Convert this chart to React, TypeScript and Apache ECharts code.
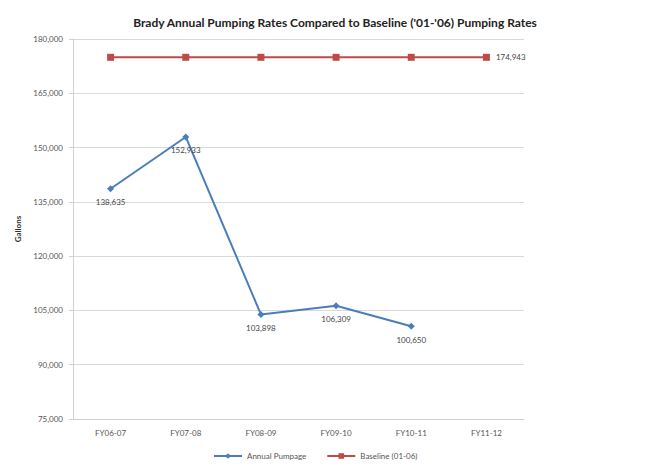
import React, { useEffect, useRef } from "react";
import * as echarts from "echarts";

const categories = ["FY06-07", "FY07-08", "FY08-09", "FY09-10", "FY10-11", "FY11-12"];
const annualPumpage = [138635, 152933, 103898, 106309, 100650, null];
const baseline = [174943, 174943, 174943, 174943, 174943, 174943];
const yTicks = { min: 75000, max: 180000, interval: 15000 };

export default function App() {
  const ref = useRef<HTMLDivElement>(null);
  useEffect(() => {
    const chart = echarts.init(ref.current!, null, { renderer: "svg" });
    const font = "Lato, 'Open Sans', sans-serif";
    chart.setOption({
      animation: false,
      backgroundColor: "#fff",
      textStyle: { fontFamily: font },
      title: {
        text: "Brady Annual Pumping Rates Compared to Baseline ('01-'06) Pumping Rates",
        left: 330,
        textAlign: "center",
        top: 11,
        textStyle: { fontSize: 12, fontWeight: "bold", color: "#222", fontFamily: font },
      },
      legend: {
        left: 208,
        top: 447,
        itemWidth: 28,
        itemHeight: 7,
        itemGap: 20,
        textStyle: { fontSize: 8, color: "#555", fontFamily: font },
        data: ["Annual Pumpage", "Baseline (01-06)"],
      },
      grid: { left: 73, right: 132, top: 39, bottom: 50 },
      xAxis: {
        type: "category",
        data: categories,
        boundaryGap: true,
        axisLine: { lineStyle: { color: "#d0d0d0" } },
        axisTick: { show: false },
        axisLabel: { fontSize: 8, color: "#555", margin: 10 },
      },
      yAxis: {
        type: "value",
        min: yTicks.min,
        max: yTicks.max,
        interval: yTicks.interval,
        name: "Gallons",
        nameLocation: "middle",
        nameGap: 44,
        nameRotate: 90,
        nameTextStyle: { fontSize: 8, fontWeight: "bold", color: "#333" },
        axisLine: { show: true, lineStyle: { color: "#d0d0d0" } },
        axisTick: { show: true, length: 4, lineStyle: { color: "#d0d0d0" } },
        splitLine: { lineStyle: { color: "#d9d9d9", width: 1 } },
        axisLabel: {
          fontSize: 8,
          color: "#555",
          margin: 10,
          formatter: (v: number) => v.toLocaleString("en-US"),
        },
      },
      series: [
        {
          name: "Annual Pumpage",
          type: "line",
          data: annualPumpage,
          symbol: "diamond",
          symbolSize: 7,
          lineStyle: { color: "#4a7ebb", width: 2 },
          itemStyle: { color: "#4a7ebb" },
          label: {
            show: true,
            position: "bottom",
            distance: 6,
            fontSize: 8,
            color: "#444",
            formatter: (p: any) => Number(p.value).toLocaleString("en-US"),
          },
        },
        {
          name: "Baseline (01-06)",
          type: "line",
          data: baseline,
          symbol: "rect",
          symbolSize: 7,
          lineStyle: { color: "#be4b48", width: 2 },
          itemStyle: { color: "#be4b48" },
          label: {
            show: true,
            position: "right",
            distance: 6,
            fontSize: 8,
            color: "#444",
            formatter: (p: any) =>
              p.dataIndex === baseline.length - 1 ? Number(p.value).toLocaleString("en-US") : "",
          },
        },
      ],
    });
    return () => chart.dispose();
  }, []);
  return (
    <div style={{ position: "relative", width: 656, height: 469, margin: -8, overflow: "hidden" }}>
      <div ref={ref} style={{ width: 656, height: 469 }} />
      <div
        style={{
          position: "absolute",
          left: 3,
          top: 4,
          width: 700,
          height: 500,
          borderLeft: "1px solid #b8b8b8",
          borderTop: "1px solid #b8b8b8",
          pointerEvents: "none",
        }}
      />
    </div>
  );
}
